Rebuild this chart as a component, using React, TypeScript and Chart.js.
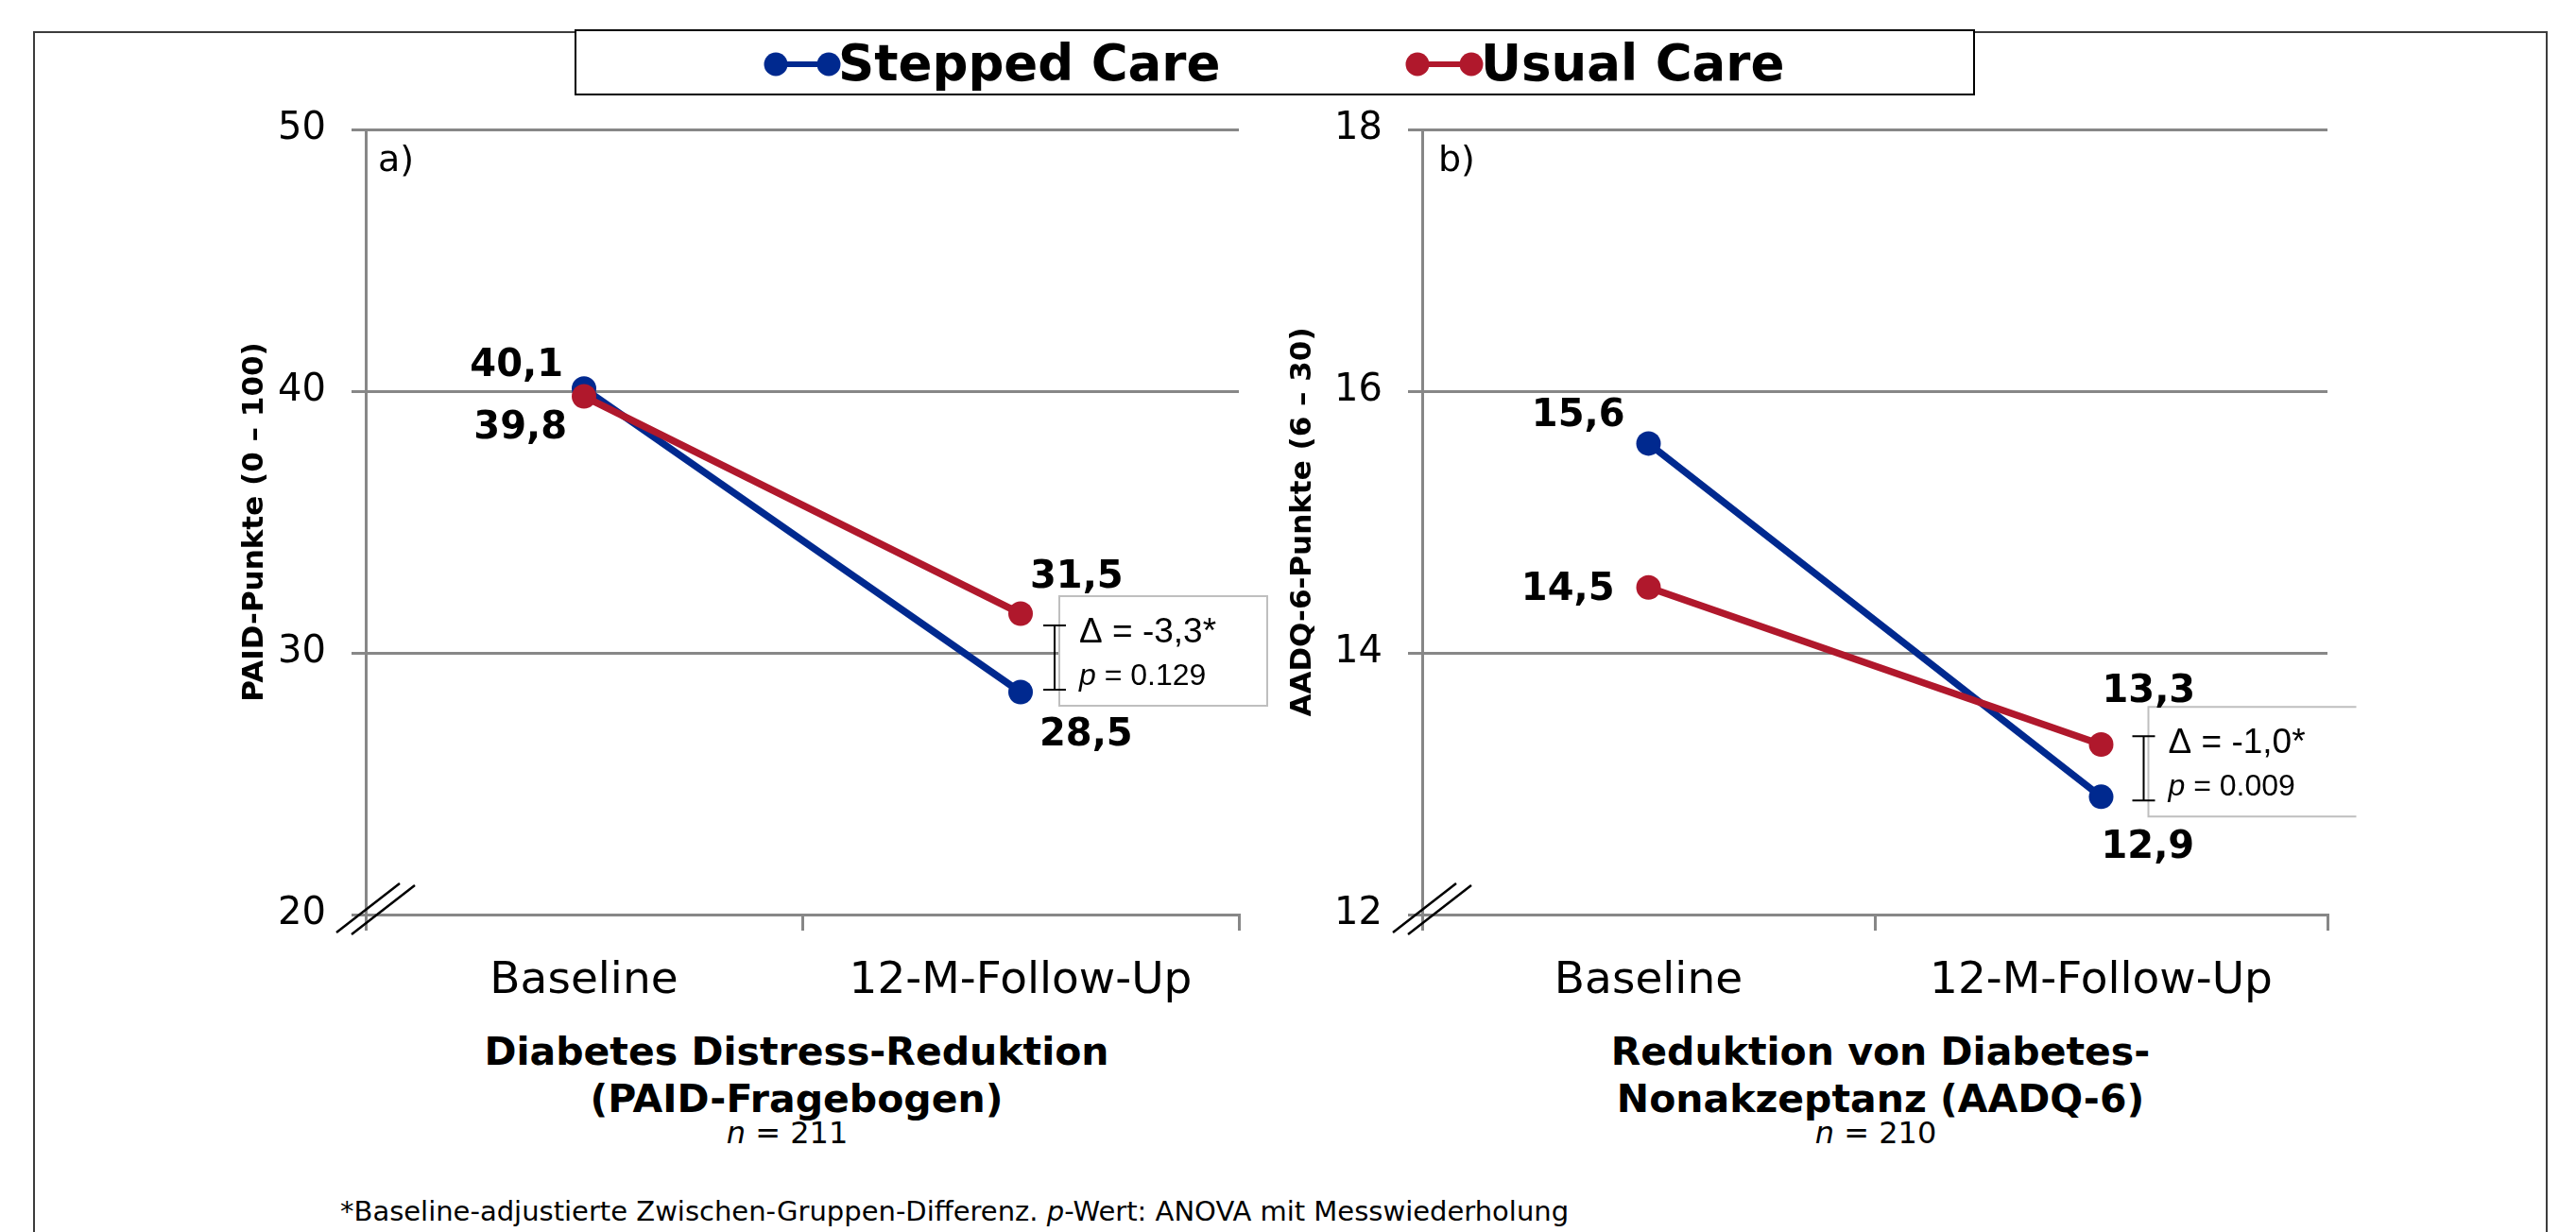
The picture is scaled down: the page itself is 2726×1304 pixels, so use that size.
import React, { useEffect, useRef } from 'react';
import { Chart, registerables } from 'chart.js';

Chart.register(...registerables);

// ---------- data ----------
const categories = ['Baseline', '12-M-Follow-Up'];
const seriesNames = ['Stepped Care', 'Usual Care'];

const paidStepped = [40.1, 28.5];
const paidUsual = [39.8, 31.5];
const paidTicks = [20, 30, 40, 50];
const paidDelta = 'Δ = -3,3*';
const paidP = '0.129';

const aadqStepped = [15.6, 12.9];
const aadqUsual = [14.5, 13.3];
const aadqTicks = [12, 14, 16, 18];
const aadqDelta = 'Δ = -1,0*';
const aadqP = '0.009';

// ---------- style ----------
const BLUE = '#00298F';
const RED = '#B0182C';
const GRID = '#878787';
const FONT = '"DejaVu Sans", Verdana, sans-serif';
const NOTE_FONT = '"Liberation Sans", Arial, sans-serif';

type Place = { dx: number; dy: number; align: CanvasTextAlign };

interface PanelCfg {
  panel: string;
  panelDx: number;
  yTitle: string;
  ticks: number[];
  stepped: number[];
  usual: number[];
  width: number;
  height: number;
  axisWidth: number;
  padRight: number;
  titlePad: number;
  labels: Place[][];
  note: {
    delta: string;
    p: string;
    bracketTop: number;
    bracketBottom: number;
    boxTop: number;
    boxBottom: number;
    bracketDx: number;
    boxRightDx: number;
    closeRight: boolean;
  };
}

const fmt = (v: number) => v.toFixed(1).replace('.', ',');

function makeFigurePlugin(cfg: PanelCfg) {
  return {
    id: 'figure' + cfg.panel.replace(')', ''),
    afterDatasetsDraw(chart: any) {
      const ctx: CanvasRenderingContext2D = chart.ctx;
      const area = chart.chartArea;
      const yScale = chart.scales.y;
      ctx.save();

      // panel letter
      ctx.fillStyle = '#000';
      ctx.font = `38px ${FONT}`;
      ctx.textAlign = 'left';
      ctx.textBaseline = 'middle';
      ctx.fillText(cfg.panel, area.left + cfg.panelDx, area.top + 34);

      // axis break marks
      ctx.strokeStyle = '#000';
      ctx.lineWidth = 2.5;
      [0, 16].forEach((off) => {
        ctx.beginPath();
        ctx.moveTo(area.left - 31 + off, area.bottom + 19 + off / 8);
        ctx.lineTo(area.left + 36 + off, area.bottom - 33 + off / 8);
        ctx.stroke();
      });

      // annotation (difference bracket + box)
      const n = cfg.note;
      const last = categories.length - 1;
      const px = chart.getDatasetMeta(0).data[last].x;
      const bx = px + n.bracketDx;
      const bt = yScale.getPixelForValue(n.bracketTop);
      const bb = yScale.getPixelForValue(n.bracketBottom);
      const boxL = bx + 5;
      const boxR = px + n.boxRightDx;
      const boxT = yScale.getPixelForValue(n.boxTop);
      const boxB = yScale.getPixelForValue(n.boxBottom);
      ctx.fillStyle = '#fff';
      ctx.fillRect(boxL, boxT, boxR - boxL, boxB - boxT);
      ctx.strokeStyle = '#BFBFBF';
      ctx.lineWidth = 2;
      ctx.beginPath();
      ctx.moveTo(boxR, boxT);
      ctx.lineTo(boxL, boxT);
      ctx.lineTo(boxL, boxB);
      ctx.lineTo(boxR, boxB);
      if (n.closeRight) ctx.closePath();
      ctx.stroke();

      ctx.strokeStyle = '#000';
      ctx.lineWidth = 2;
      ctx.beginPath();
      ctx.moveTo(bx, bt);
      ctx.lineTo(bx, bb);
      ctx.moveTo(bx - 12, bt);
      ctx.lineTo(bx + 12, bt);
      ctx.moveTo(bx - 12, bb);
      ctx.lineTo(bx + 12, bb);
      ctx.stroke();

      ctx.fillStyle = '#000';
      ctx.textAlign = 'left';
      ctx.textBaseline = 'alphabetic';
      ctx.font = `37px ${NOTE_FONT}`;
      ctx.fillText(n.delta, boxL + 21, boxT + 49);
      ctx.font = `italic 32px ${NOTE_FONT}`;
      ctx.fillText('p', boxL + 21, boxT + 94);
      const pw = ctx.measureText('p').width;
      ctx.font = `32px ${NOTE_FONT}`;
      ctx.fillText(' = ' + n.p, boxL + 21 + pw, boxT + 94);

      // data labels
      ctx.font = `bold 40px ${FONT}`;
      ctx.textBaseline = 'middle';
      chart.data.datasets.forEach((ds: any, di: number) => {
        const meta = chart.getDatasetMeta(di);
        meta.data.forEach((pt: any, i: number) => {
          const pl = cfg.labels[di][i];
          ctx.textAlign = pl.align;
          ctx.fillText(fmt(ds.data[i]), pt.x + pl.dx, pt.y + pl.dy);
        });
      });

      ctx.restore();
    },
  };
}

const leftCfg: PanelCfg = {
  panel: 'a)',
  panelDx: 13,
  yTitle: 'PAID-Punkte (0 – 100)',
  ticks: paidTicks,
  stepped: paidStepped,
  usual: paidUsual,
  width: 1180,
  height: 989,
  axisWidth: 187,
  padRight: 69,
  titlePad: 51,
  labels: [
    [
      { dx: -22, dy: -24, align: 'right' },
      { dx: 20, dy: 46, align: 'left' },
    ],
    [
      { dx: -18, dy: 34, align: 'right' },
      { dx: 10, dy: -38, align: 'left' },
    ],
  ],
  note: {
    delta: paidDelta,
    p: paidP,
    bracketTop: 31.05,
    bracketBottom: 28.59,
    boxTop: 32.17,
    boxBottom: 27.98,
    bracketDx: 36,
    boxRightDx: 261,
    closeRight: true,
  },
};

const rightCfg: PanelCfg = {
  panel: 'b)',
  panelDx: 17,
  yTitle: 'AADQ-6-Punkte (6 – 30)',
  ticks: aadqTicks,
  stepped: aadqStepped,
  usual: aadqUsual,
  width: 1220,
  height: 989,
  axisWidth: 205,
  padRight: 57,
  titlePad: 60,
  labels: [
    [
      { dx: -25, dy: -29, align: 'right' },
      { dx: 0, dy: 54, align: 'left' },
    ],
    [
      { dx: -36, dy: 3, align: 'right' },
      { dx: 1, dy: -55, align: 'left' },
    ],
  ],
  note: {
    delta: aadqDelta,
    p: aadqP,
    bracketTop: 13.363,
    bracketBottom: 12.872,
    boxTop: 13.586,
    boxBottom: 12.75,
    bracketDx: 45,
    boxRightDx: 270,
    closeRight: false,
  },
};

function Panel({ cfg, left, top }: { cfg: PanelCfg; left: number; top: number }) {
  const ref = useRef<HTMLCanvasElement>(null);
  useEffect(() => {
    const canvas = ref.current;
    if (!canvas) return;
    const chart = new Chart(canvas, {
      type: 'line',
      data: {
        labels: categories,
        datasets: [
          {
            label: seriesNames[0],
            data: cfg.stepped,
            borderColor: BLUE,
            backgroundColor: BLUE,
            pointBackgroundColor: BLUE,
            pointBorderColor: BLUE,
            pointBorderWidth: 0,
            pointRadius: 13,
            borderWidth: 7.5,
            order: 2,
          },
          {
            label: seriesNames[1],
            data: cfg.usual,
            borderColor: RED,
            backgroundColor: RED,
            pointBackgroundColor: RED,
            pointBorderColor: RED,
            pointBorderWidth: 0,
            pointRadius: 13,
            borderWidth: 7.5,
            order: 1,
          },
        ],
      },
      options: {
        responsive: false,
        animation: false,
        layout: { padding: { left: 0, top: 0, right: cfg.padRight, bottom: 0 } },
        plugins: {
          legend: { display: false },
          tooltip: { enabled: false },
        },
        scales: {
          x: {
            type: 'category',
            offset: true,
            grid: {
              display: true,
              drawOnChartArea: false,
              offset: true,
              tickLength: 17,
              color: GRID,
              lineWidth: 3,
            },
            border: { display: true, color: GRID, width: 3 },
            ticks: {
              color: '#000',
              font: { family: FONT, size: 47 },
              padding: 26,
              maxRotation: 0,
              autoSkip: false,
            },
            afterFit: (s: any) => {
              s.height = 107;
            },
          },
          y: {
            min: cfg.ticks[0],
            max: cfg.ticks[cfg.ticks.length - 1],
            afterBuildTicks: (s: any) => {
              s.ticks = cfg.ticks.map((v) => ({ value: v }));
            },
            grid: { color: GRID, lineWidth: 3, tickLength: 15 },
            border: { display: true, color: GRID, width: 3 },
            ticks: {
              color: '#000',
              font: { family: FONT, size: 40 },
              padding: 27,
            },
            title: {
              display: true,
              text: cfg.yTitle,
              color: '#000',
              font: { family: FONT, size: 31, weight: 'bold' },
              padding: { top: cfg.titlePad, bottom: 0 },
            },
            afterFit: (s: any) => {
              s.width = cfg.axisWidth;
            },
          },
        },
      },
      plugins: [makeFigurePlugin(cfg)],
    } as any);
    return () => chart.destroy();
  }, [cfg]);
  return (
    <canvas
      ref={ref}
      width={cfg.width}
      height={cfg.height}
      style={{ position: 'absolute', left, top, width: cfg.width, height: cfg.height }}
    />
  );
}

const abs = (o: React.CSSProperties): React.CSSProperties => ({ position: 'absolute', ...o });

export default function App() {
  const titleStyle: React.CSSProperties = {
    fontFamily: FONT,
    fontWeight: 'bold',
    fontSize: 41,
    lineHeight: '50px',
    textAlign: 'center',
    color: '#000',
    whiteSpace: 'nowrap',
  };
  const nStyle: React.CSSProperties = {
    fontFamily: FONT,
    fontSize: 32,
    lineHeight: '36px',
    textAlign: 'center',
    color: '#000',
    whiteSpace: 'nowrap',
  };
  const legendText: React.CSSProperties = {
    fontFamily: FONT,
    fontWeight: 'bold',
    fontSize: 53,
    lineHeight: '53px',
    color: '#000',
    whiteSpace: 'nowrap',
  };
  return (
    <div
      style={{
        position: 'fixed',
        left: 0,
        top: 0,
        width: 2726,
        height: 1304,
        overflow: 'hidden',
        background: '#fff',
      }}
    >
      {/* outer frame */}
      <div
        style={abs({
          left: 35,
          top: 33,
          width: 2661,
          height: 1400,
          border: '2px solid #3c3c3c',
          boxSizing: 'border-box',
        })}
      />

      <Panel cfg={leftCfg} left={200} top={86} />
      <Panel cfg={rightCfg} left={1300} top={86} />

      {/* legend */}
      <div
        style={abs({
          left: 608,
          top: 31,
          width: 1482,
          height: 70,
          border: '2px solid #000',
          boxSizing: 'border-box',
          background: '#fff',
        })}
      />
      <svg style={abs({ left: 0, top: 0 })} width={2726} height={120}>
        <line x1={821} y1={68} x2={877} y2={68} stroke={BLUE} strokeWidth={6} />
        <circle cx={821} cy={68} r={12.5} fill={BLUE} />
        <circle cx={877} cy={68} r={12.5} fill={BLUE} />
        <line x1={1500} y1={68} x2={1557} y2={68} stroke={RED} strokeWidth={6} />
        <circle cx={1500} cy={68} r={12.5} fill={RED} />
        <circle cx={1557} cy={68} r={12.5} fill={RED} />
      </svg>
      <div style={abs({ left: 887, top: 40, ...legendText })}>{seriesNames[0]}</div>
      <div style={abs({ left: 1567, top: 40, ...legendText })}>{seriesNames[1]}</div>

      {/* panel titles */}
      <div style={abs({ left: 343, top: 1088, width: 1000, ...titleStyle })}>
        Diabetes Distress-Reduktion
        <br />
        (PAID-Fragebogen)
      </div>
      <div style={abs({ left: 333, top: 1181, width: 1000, ...nStyle })}>
        <i>n</i> = 211
      </div>
      <div style={abs({ left: 1490, top: 1088, width: 1000, ...titleStyle })}>
        Reduktion von Diabetes-
        <br />
        Nonakzeptanz (AADQ-6)
      </div>
      <div style={abs({ left: 1485, top: 1181, width: 1000, ...nStyle })}>
        <i>n</i> = 210
      </div>

      {/* footnote */}
      <div
        style={abs({
          left: 360,
          top: 1265,
          fontFamily: FONT,
          fontSize: 29,
          lineHeight: '34px',
          color: '#000',
          whiteSpace: 'nowrap',
        })}
      >
        *Baseline-adjustierte Zwischen-Gruppen-Differenz. <i>p</i>-Wert: ANOVA mit Messwiederholung
      </div>
    </div>
  );
}
